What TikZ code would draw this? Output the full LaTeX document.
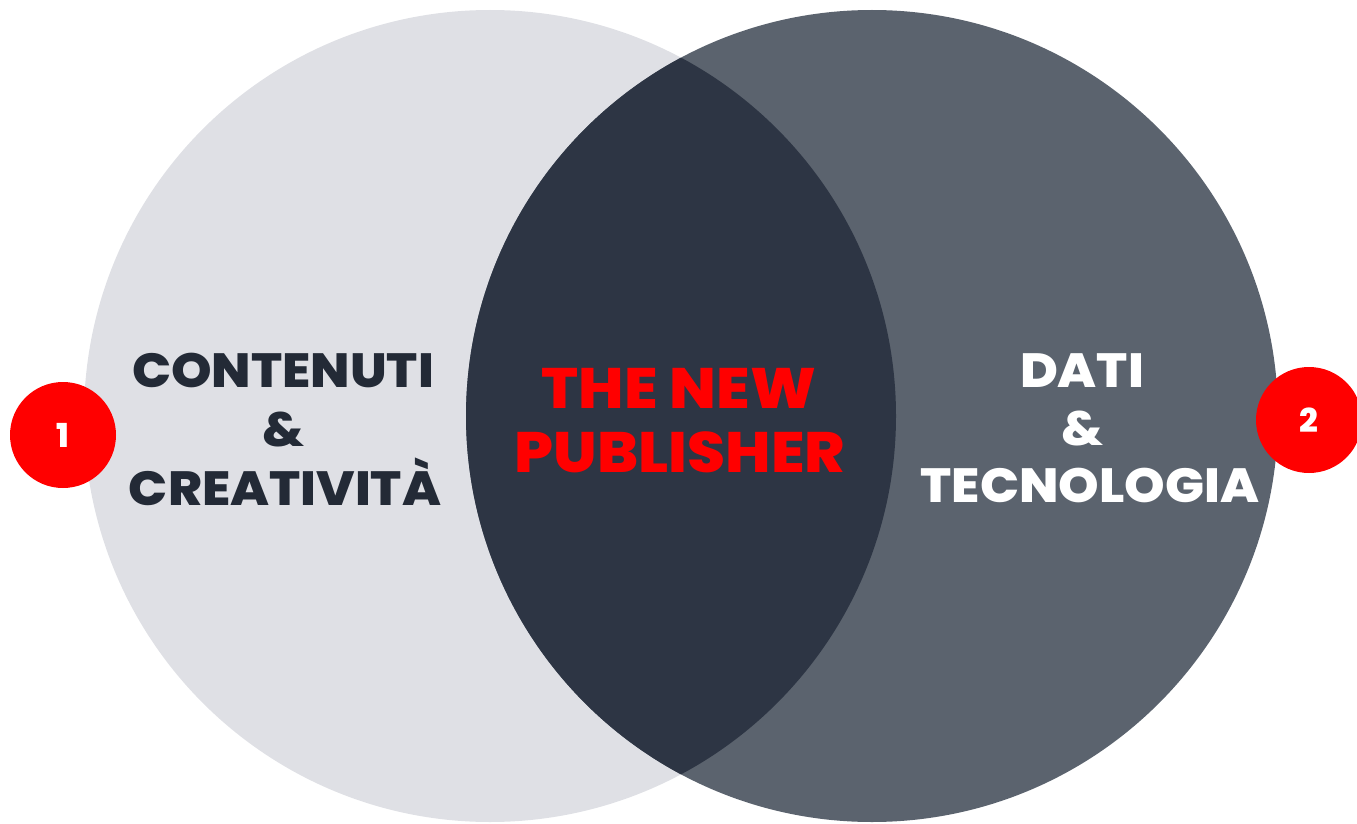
\documentclass[tikz,border=0pt]{standalone}
\usepackage{fontspec}
\setmainfont{Poppins}[BoldFont={Poppins ExtraBold}]
\definecolor{lightc}{HTML}{DFE0E5}
\definecolor{darkc}{HTML}{5B636E}
\definecolor{overlapc}{HTML}{2D3544}
\definecolor{textdark}{HTML}{232A36}
\definecolor{redc}{HTML}{FF0000}
\newcommand{\wide}[1]{\scalebox{1.075}[1]{#1}}
\tikzset{
  lbl/.style={anchor=base, inner sep=0pt, font=\bfseries\fontsize{48}{48}\selectfont},
  mid/.style={anchor=base, inner sep=0pt, text=redc, font=\bfseries\fontsize{57}{57}\selectfont},
  badge/.style={circle, fill=redc, minimum size=106pt, inner sep=0pt, text=white, font=\bfseries\fontsize{33}{33}\selectfont},
}
\begin{document}
\begin{tikzpicture}[x=1pt,y=-1pt]
\useasboundingbox (0,0) rectangle (1357,824);
\fill[lightc] (490,416) circle[radius=406];
\fill[darkc] (872,416) circle[radius=406];
\begin{scope}
\clip (490,416) circle[radius=406];
\fill[overlapc] (872,416) circle[radius=406];
\end{scope}
% left block
\node[lbl, text=textdark] (c1) at (283,387) {\wide{CONTENUTI}};
\node[lbl, text=textdark] (c2) at (283,446) {\wide{\&}};
\node[lbl, text=textdark] (c3) at (285,505) {\wide{CREATIVITÀ}};
% middle block
\node[mid] (m1) at (679,408) {\wide{THE NEW}};
\node[mid] (m2) at (680,472) {\wide{PUBLISHER}};
% right block
\node[lbl, text=white] (r1) at (1082,387) {\wide{DATI}};
\node[lbl, text=white] (r2) at (1082,445) {\wide{\&}};
\node[lbl, text=white] (r3) at (1090,502) {\wide{TECNOLOGIA}};
% badges
\node[badge] (b1) at (63,435) {1};
\node[badge] (b2) at (1309,420) {2};
\end{tikzpicture}
\end{document}
